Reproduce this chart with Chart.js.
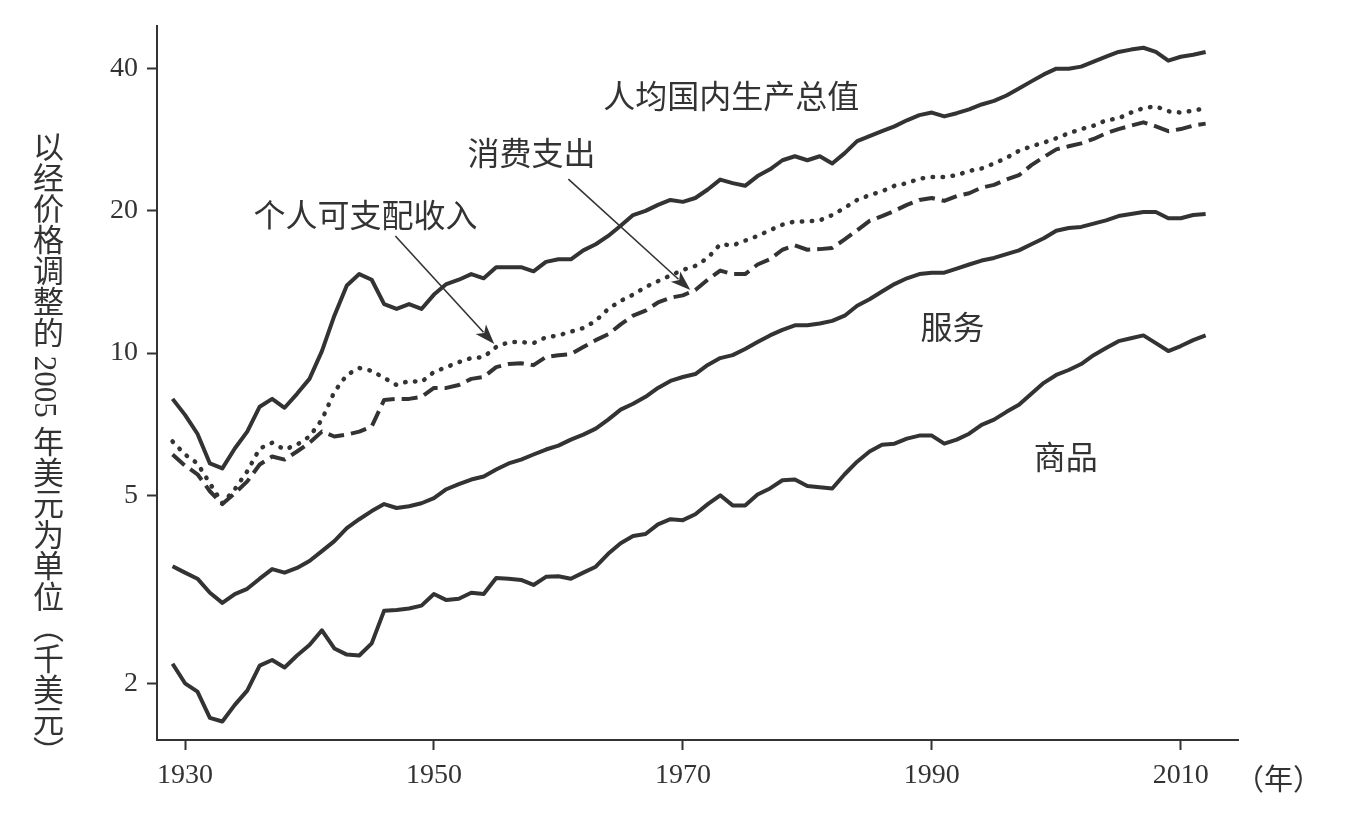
<!DOCTYPE html>
<html lang="zh-CN">
<head>
<meta charset="utf-8">
<title>人均国内生产总值与消费</title>
<script src="https://cdn.jsdelivr.net/npm/chart.js@4.4.0/dist/chart.umd.min.js"></script>
<style>
  html, body { margin: 0; padding: 0; background: #fff; }
  #wrap { position: relative; width: 1354px; height: 831px; }
  #yTitle {
    position: absolute; left: 30px; top: 131px;
    writing-mode: vertical-rl; text-orientation: mixed;
    font-family: "Liberation Serif", "Noto Sans CJK SC", serif;
    font-size: 31px; line-height: 1; color: #333; white-space: nowrap;
  }
</style>
</head>
<body>
<div id="wrap">
  <canvas id="chart" width="1354" height="831"></canvas>
  <div id="yTitle">以经价格调整的 2005 年美元为单位（千美元）</div>
</div>
<script>
// years 1929 - 2012
const years = Array.from({ length: 84 }, (_, i) => 1929 + i);

const gdpPerCapita = [
  8.00, 7.40, 6.75, 5.84, 5.70, 6.28, 6.82, 7.70, 8.00, 7.66,
  8.20, 8.82, 10.1, 12.0, 13.9, 14.7, 14.3, 12.7, 12.4, 12.7,
  12.4, 13.3, 14.0, 14.3, 14.7, 14.4, 15.2, 15.2, 15.2, 14.9,
  15.6, 15.8, 15.8, 16.5, 17.0, 17.7, 18.6, 19.6, 20.0, 20.6,
  21.1, 20.9, 21.3, 22.2, 23.3, 22.9, 22.6, 23.7, 24.5, 25.6,
  26.1, 25.6, 26.1, 25.2, 26.5, 28.1, 28.8, 29.5, 30.2, 31.1,
  31.9, 32.3, 31.7, 32.2, 32.8, 33.6, 34.2, 35.1, 36.3, 37.6,
  38.9, 40.0, 40.0, 40.4, 41.4, 42.4, 43.4, 43.9, 44.3, 43.4,
  41.6, 42.4, 42.8, 43.4
];

const disposableIncome = [
  6.50, 6.10, 5.84, 5.30, 4.81, 5.15, 5.62, 6.28, 6.46, 6.25,
  6.40, 6.66, 7.23, 8.28, 8.99, 9.30, 9.17, 8.86, 8.56, 8.73,
  8.69, 9.12, 9.34, 9.57, 9.76, 9.81, 10.3, 10.55, 10.55, 10.5,
  10.8, 10.9, 11.1, 11.3, 11.7, 12.4, 12.9, 13.3, 13.8, 14.2,
  14.6, 15.0, 15.3, 15.9, 17.0, 16.9, 17.3, 17.7, 18.2, 18.7,
  19.0, 19.0, 19.1, 19.6, 20.3, 21.1, 21.6, 22.0, 22.6, 22.9,
  23.4, 23.6, 23.6, 23.8, 24.3, 24.6, 25.2, 25.9, 26.8, 27.4,
  27.9, 28.5, 29.2, 29.8, 30.3, 31.1, 31.4, 32.3, 33.0, 33.3,
  32.5, 32.3, 32.6, 33.0
];

const consumption = [
  6.10, 5.78, 5.54, 5.10, 4.79, 5.05, 5.35, 5.81, 6.04, 5.95,
  6.19, 6.46, 6.82, 6.66, 6.72, 6.82, 6.99, 7.96, 8.00, 8.00,
  8.08, 8.44, 8.44, 8.56, 8.82, 8.90, 9.34, 9.48, 9.52, 9.43,
  9.81, 9.90, 9.95, 10.3, 10.65, 10.96, 11.5, 12.0, 12.3, 12.8,
  13.1, 13.25, 13.6, 14.3, 14.95, 14.7, 14.7, 15.4, 15.8, 16.55,
  16.9, 16.55, 16.6, 16.7, 17.4, 18.2, 19.05, 19.5, 20.0, 20.6,
  21.1, 21.3, 21.0, 21.5, 21.8, 22.4, 22.7, 23.3, 23.8, 25.0,
  26.0, 27.0, 27.4, 27.8, 28.4, 29.2, 29.8, 30.3, 30.8, 30.2,
  29.5, 29.8, 30.3, 30.6
];

const services = [
  3.54, 3.43, 3.33, 3.11, 2.96, 3.09, 3.17, 3.33, 3.49, 3.43,
  3.51, 3.63, 3.81, 4.00, 4.26, 4.45, 4.63, 4.79, 4.70, 4.74,
  4.81, 4.93, 5.15, 5.28, 5.40, 5.48, 5.67, 5.84, 5.95, 6.10,
  6.25, 6.37, 6.56, 6.72, 6.92, 7.23, 7.59, 7.81, 8.08, 8.44,
  8.73, 8.90, 9.03, 9.44, 9.76, 9.90, 10.2, 10.55, 10.9, 11.2,
  11.45, 11.45, 11.55, 11.7, 12.0, 12.6, 13.0, 13.5, 14.0, 14.4,
  14.7, 14.8, 14.8, 15.1, 15.4, 15.7, 15.9, 16.2, 16.5, 17.0,
  17.5, 18.15, 18.4, 18.5, 18.8, 19.1, 19.5, 19.7, 19.9, 19.9,
  19.3, 19.3, 19.6, 19.7
];

const goods = [
  2.20, 2.00, 1.92, 1.69, 1.66, 1.80, 1.93, 2.18, 2.24, 2.16,
  2.29, 2.41, 2.59, 2.37, 2.30, 2.29, 2.43, 2.85, 2.86, 2.88,
  2.92, 3.09, 3.00, 3.02, 3.11, 3.09, 3.34, 3.33, 3.31, 3.23,
  3.36, 3.37, 3.33, 3.43, 3.53, 3.76, 3.96, 4.10, 4.14, 4.34,
  4.45, 4.43, 4.56, 4.79, 5.00, 4.76, 4.76, 5.02, 5.17, 5.38,
  5.40, 5.23, 5.20, 5.17, 5.54, 5.89, 6.19, 6.40, 6.43, 6.59,
  6.69, 6.69, 6.43, 6.56, 6.75, 7.05, 7.23, 7.51, 7.77, 8.20,
  8.65, 8.99, 9.21, 9.48, 9.90, 10.25, 10.6, 10.75, 10.9, 10.5,
  10.1, 10.35, 10.65, 10.9
];

const xTicks = [1930, 1950, 1970, 1990, 2010];
const yTicks = [2, 5, 10, 20, 40];

// text labels and arrows, placed in data units (year, value)
const seriesLabels = [
  { text: '人均国内生产总值', year: 1963.6, value: 35.1 },
  { text: '消费支出', year: 1952.7, value: 26.5 },
  { text: '个人可支配收入', year: 1935.5, value: 19.6 },
  { text: '服务', year: 1989.1, value: 11.34 },
  { text: '商品', year: 1998.2, value: 6.04 }
];
const arrows = [
  { from: [1960.8, 23.35], to: [1970.6, 13.6] },
  { from: [1946.9, 17.7], to: [1954.85, 10.45] }
];

const ink = '#333333';
const numFont = '"Liberation Serif", "Times New Roman", serif';
const cjkFont = '"Noto Sans CJK SC", sans-serif';

const toPoints = (values) => values.map((v, i) => ({ x: years[i], y: v }));

const baseLine = {
  borderColor: ink,
  borderWidth: 4,
  pointRadius: 0,
  tension: 0,
  fill: false,
  borderJoinStyle: 'round'
};

/**
 * Labels and arrows drawn on top of the lines
 */
const annotationPlugin = {
  id: 'annotations',
  afterDatasetsDraw(chart) {
    const { ctx, scales: { x, y }, chartArea } = chart;
    ctx.save();
    ctx.fillStyle = ink;
    ctx.strokeStyle = ink;
    ctx.textBaseline = 'middle';
    ctx.textAlign = 'left';
    ctx.font = '32px ' + cjkFont;
    seriesLabels.forEach((l) => {
      ctx.fillText(l.text, x.getPixelForValue(l.year), y.getPixelForValue(l.value));
    });

    arrows.forEach((a) => {
      const x0 = x.getPixelForValue(a.from[0]);
      const y0 = y.getPixelForValue(a.from[1]);
      const x1 = x.getPixelForValue(a.to[0]);
      const y1 = y.getPixelForValue(a.to[1]);
      const ang = Math.atan2(y1 - y0, x1 - x0);
      const headLen = 20;
      const headW = 7;
      ctx.lineWidth = 1.6;
      ctx.beginPath();
      ctx.moveTo(x0, y0);
      ctx.lineTo(x1 - Math.cos(ang) * headLen * 0.8, y1 - Math.sin(ang) * headLen * 0.8);
      ctx.stroke();
      ctx.beginPath();
      ctx.moveTo(x1, y1);
      ctx.lineTo(x1 - Math.cos(ang) * headLen - Math.sin(ang) * headW,
                 y1 - Math.sin(ang) * headLen + Math.cos(ang) * headW);
      ctx.lineTo(x1 - Math.cos(ang) * headLen * 0.75, y1 - Math.sin(ang) * headLen * 0.75);
      ctx.lineTo(x1 - Math.cos(ang) * headLen + Math.sin(ang) * headW,
                 y1 - Math.sin(ang) * headLen - Math.cos(ang) * headW);
      ctx.closePath();
      ctx.fill();
    });

    // unit of the x axis
    ctx.font = '29px ' + cjkFont;
    ctx.fillText('（年）', chartArea.right - 3, chartArea.bottom + 39);
    ctx.restore();
  }
};

document.addEventListener('DOMContentLoaded', function () {
  const ctx = document.getElementById('chart').getContext('2d');

  new Chart(ctx, {
    type: 'line',
    data: {
      datasets: [
        { ...baseLine, label: '人均国内生产总值', data: toPoints(gdpPerCapita) },
        { ...baseLine, label: '个人可支配收入', data: toPoints(disposableIncome),
          borderWidth: 4.5, borderDash: [0.5, 9.5], borderCapStyle: 'round' },
        { ...baseLine, label: '消费支出', data: toPoints(consumption),
          borderDash: [16, 7], borderCapStyle: 'butt' },
        { ...baseLine, label: '服务', data: toPoints(services) },
        { ...baseLine, label: '商品', data: toPoints(goods) }
      ]
    },
    options: {
      responsive: false,
      animation: false,
      events: [],
      layout: { padding: { top: 22, right: 116, left: 0, bottom: 0 } },
      plugins: {
        legend: { display: false },
        tooltip: { enabled: false }
      },
      scales: {
        x: {
          type: 'linear',
          min: 1927.75,
          max: 2014.6,
          afterBuildTicks: (scale) => { scale.ticks = xTicks.map((v) => ({ value: v })); },
          afterFit: (scale) => { scale.height = 91; },
          grid: { drawOnChartArea: false, drawTicks: true, tickLength: 10, tickColor: ink, tickWidth: 2 },
          border: { display: true, color: ink, width: 2 },
          ticks: {
            color: ink,
            padding: 9,
            maxRotation: 0,
            font: { family: numFont, size: 28 },
            callback: (v) => String(v)
          }
        },
        y: {
          type: 'logarithmic',
          min: 1.517,
          max: 49.3,
          afterBuildTicks: (scale) => { scale.ticks = yTicks.map((v) => ({ value: v })); },
          afterFit: (scale) => { scale.width = 157; },
          grid: { drawOnChartArea: false, drawTicks: true, tickLength: 10, tickColor: ink, tickWidth: 2 },
          border: { display: true, color: ink, width: 2 },
          ticks: {
            color: ink,
            padding: 9,
            font: { family: numFont, size: 28 },
            callback: (v) => String(v)
          }
        }
      }
    },
    plugins: [annotationPlugin]
  });
});
</script>
</body>
</html>
